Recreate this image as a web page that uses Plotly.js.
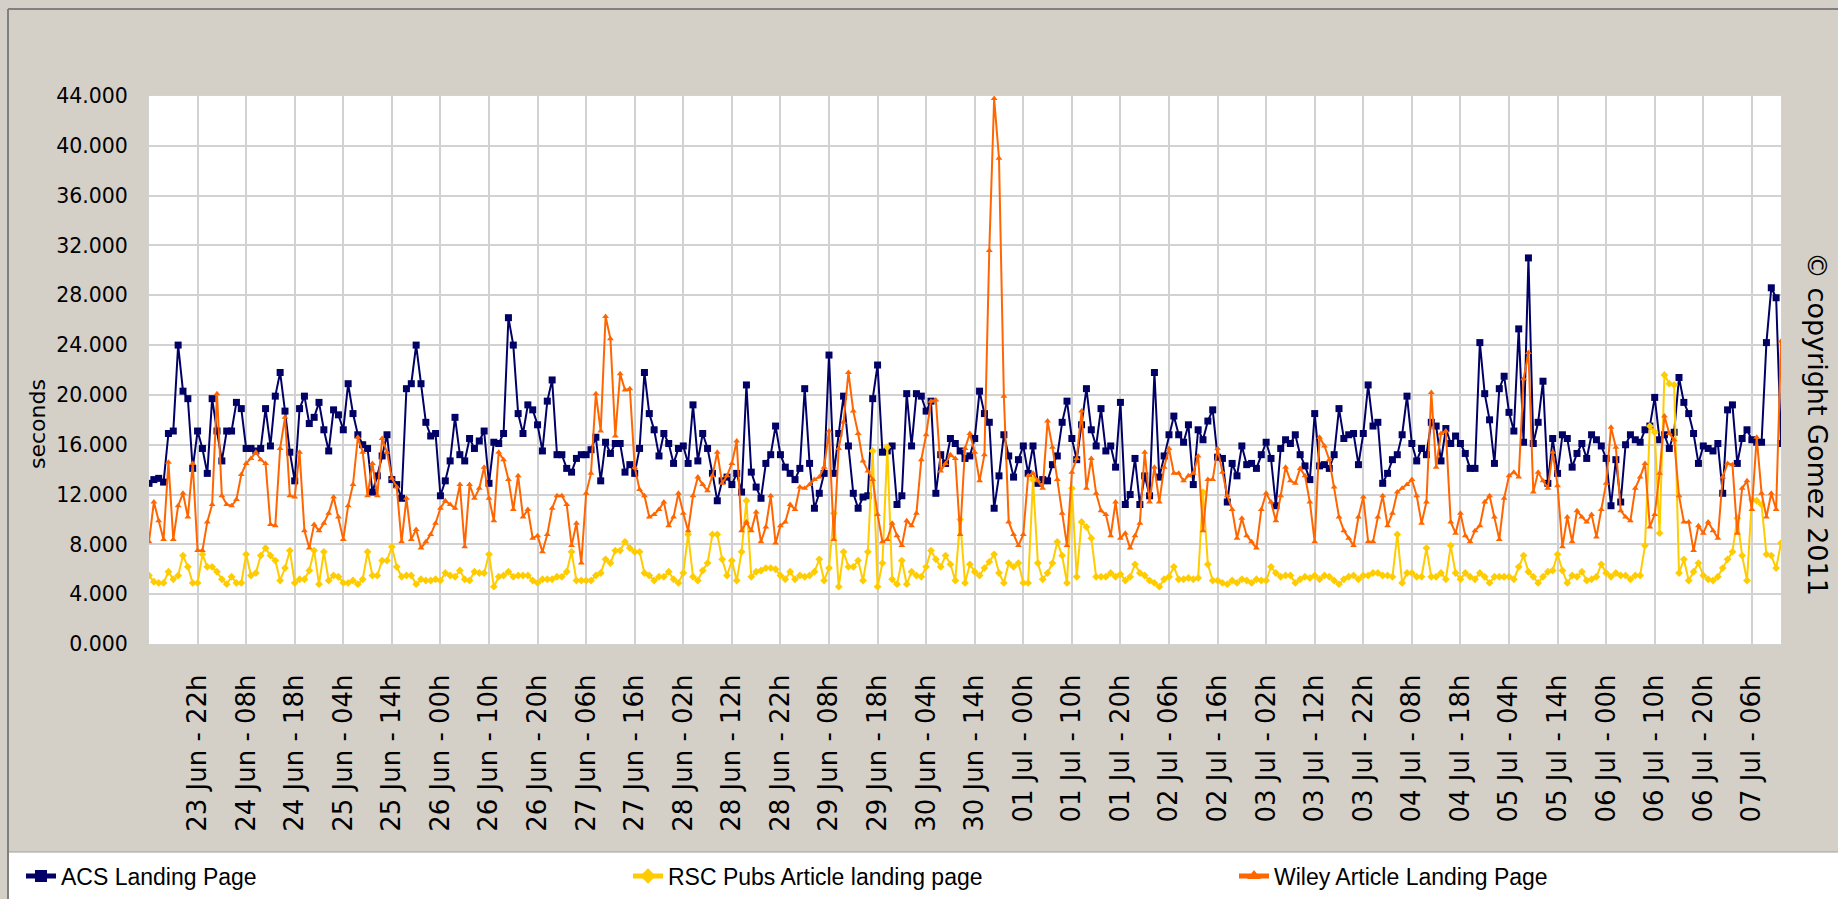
<!DOCTYPE html>
<html>
<head>
<meta charset="utf-8">
<script src="https://cdn.plot.ly/plotly-3.0.1.min.js"></script>
<style>
html,body{margin:0;padding:0;background:#D4D0C8;}
#chart{width:1838px;height:899px;}
</style>
</head>
<body>
<div id="chart"></div>
<script>
// ---- data (hourly samples, seconds) ----
const startTime = '2011-06-23T12:00:00Z';
const seriesNames = ['ACS Landing Page', 'RSC Pubs Article landing page', 'Wiley Article Landing Page'];

const acsLanding = [
12.9,13.2,13.3,13.0,16.9,17.1,24.0,20.3,19.7,14.1,17.1,15.7,13.7,19.7,17.1,14.7,17.1,17.1,19.4,18.9,15.7,15.7,15.5,15.7,18.9,15.9,19.9,21.8,18.7,15.4,13.1,18.9,19.9,17.7,
18.2,19.4,17.2,15.5,18.8,18.4,17.2,20.9,18.5,16.8,16.0,15.7,12.2,13.5,15.1,16.8,13.2,12.8,11.7,20.5,20.9,24.0,20.9,17.8,16.7,16.9,11.9,13.1,14.7,18.2,15.2,14.7,16.5,
15.7,16.3,17.1,12.9,16.2,16.1,16.9,26.2,24.0,18.5,16.9,19.2,18.8,17.6,15.5,19.5,21.2,15.2,15.2,14.1,13.8,14.9,15.2,15.2,15.6,16.6,13.1,16.2,15.3,16.1,16.1,13.8,14.4,13.7,
15.7,21.8,18.5,17.2,15.1,16.9,16.1,14.5,15.7,15.9,14.5,19.2,14.7,16.9,15.7,13.7,11.5,13.1,13.4,12.8,13.7,12.2,20.8,13.8,12.6,11.7,14.5,15.2,17.5,15.2,14.2,13.7,13.2,14.1,
20.5,14.5,10.9,12.1,13.7,23.2,13.7,16.9,19.9,15.9,12.1,10.9,11.8,11.9,19.7,22.4,15.4,15.5,15.9,11.2,11.9,20.1,15.9,20.1,19.9,18.7,19.5,12.1,15.2,14.5,16.5,16.1,15.5,
14.9,15.1,16.5,20.3,18.5,17.8,10.9,13.5,16.8,15.1,13.4,14.8,15.9,13.7,15.9,12.9,13.2,13.1,14.4,15.1,17.8,19.5,16.5,14.8,17.6,20.5,17.2,15.9,18.9,15.5,15.9,14.2,19.4,11.2,
12.0,14.9,11.2,13.5,11.9,21.8,13.4,15.1,16.8,18.3,16.8,16.2,17.6,12.8,17.2,16.4,17.9,18.8,15.0,14.9,11.4,14.5,13.5,15.9,14.4,14.5,14.1,15.2,16.2,14.9,11.1,15.7,16.4,16.1,
16.8,15.2,14.3,13.2,18.5,14.3,14.4,14.1,15.2,18.9,16.5,16.8,16.9,14.4,16.9,20.8,17.5,17.8,12.9,13.7,14.8,15.2,16.8,19.9,16.1,14.7,15.7,15.2,17.8,17.5,14.7,17.3,16.1,
16.7,16.1,15.3,14.1,14.1,24.2,20.1,18.0,14.5,20.5,21.5,18.6,17.1,25.3,16.2,31.0,16.1,17.8,21.1,12.9,16.5,13.7,16.8,16.5,14.2,15.3,16.1,14.9,16.8,16.4,15.9,14.9,11.1,14.8,
11.4,16.0,16.8,16.4,16.2,17.2,17.5,19.8,16.4,16.8,15.7,17.0,21.4,19.4,18.5,16.9,14.5,15.9,15.7,15.5,16.1,12.1,18.8,19.2,14.5,16.5,17.2,16.4,16.2,16.2,24.2,28.6,27.8,16.1
];

const rscArticle = [
5.5,5.0,4.9,4.9,5.8,5.2,5.5,7.1,6.2,4.9,4.9,7.2,6.2,6.2,5.8,5.2,4.8,5.4,4.9,4.9,7.2,5.5,5.7,7.1,7.7,7.1,6.7,5.1,6.1,7.5,4.9,5.2,5.2,5.9,
7.5,4.8,7.4,5.1,5.5,5.4,4.9,4.9,5.1,4.8,5.2,7.4,5.5,5.5,6.7,6.7,7.8,6.2,5.4,5.5,5.5,4.8,5.2,5.1,5.1,5.2,5.1,5.7,5.5,5.4,5.9,5.2,5.1,5.8,
5.7,5.7,7.2,4.6,5.4,5.5,5.8,5.4,5.5,5.5,5.5,5.1,4.9,5.2,5.2,5.2,5.4,5.4,5.8,7.4,5.1,5.1,5.1,5.1,5.5,5.7,6.8,6.5,7.5,7.5,8.2,7.7,7.4,
7.4,5.7,5.5,5.1,5.4,5.4,5.8,5.2,4.9,5.7,8.8,5.4,5.1,5.9,6.5,8.8,8.8,6.8,5.5,6.7,5.1,7.4,11.5,5.4,5.8,5.9,6.1,6.1,6.0,5.5,5.2,5.8,5.2,5.5,
5.4,5.5,5.8,6.8,5.1,6.1,10.5,4.6,7.4,6.2,6.2,6.7,5.1,7.4,15.5,4.6,6.5,15.8,5.2,4.8,6.7,4.8,5.8,5.5,5.4,6.2,7.5,6.8,6.2,7.1,6.4,5.1,10.0,
4.9,6.4,5.8,5.5,6.1,6.6,7.2,5.7,4.9,6.5,6.2,6.5,4.9,4.9,13.2,6.5,5.2,5.7,6.5,8.2,7.1,4.9,12.5,5.4,9.8,9.4,8.5,5.4,5.4,5.4,5.7,5.4,5.6,5.1,
5.4,6.4,5.7,5.5,5.1,4.9,4.6,5.2,5.4,6.2,5.2,5.2,5.3,5.2,5.3,12.2,6.4,5.1,5.1,4.9,4.8,5.1,4.9,5.2,5.1,4.9,5.2,5.1,5.1,6.2,5.7,5.4,5.5,5.5,
4.9,5.2,5.4,5.3,5.5,5.2,5.5,5.4,5.1,4.8,5.2,5.4,5.5,5.2,5.5,5.5,5.7,5.7,5.5,5.5,5.4,8.8,4.9,5.7,5.7,5.4,5.4,7.7,5.4,5.4,5.7,5.2,7.9,
5.7,5.2,5.7,5.4,5.2,5.7,5.4,4.9,5.4,5.4,5.4,5.4,5.2,6.2,7.1,5.8,5.4,4.9,5.4,5.8,5.9,7.2,5.9,4.9,5.5,5.4,5.8,5.1,5.2,5.4,6.4,5.7,5.4,5.7,
5.5,5.5,5.2,5.5,5.5,7.9,17.5,17.0,8.9,21.6,20.9,20.8,5.7,6.8,5.1,5.8,6.5,5.5,5.2,5.1,5.4,6.1,6.8,7.4,10.1,7.1,5.1,11.6,11.5,11.2,7.2,7.1,6.1,8.1
];

const wileyArticle = [
8.2,11.4,9.9,8.4,14.6,8.4,11.1,12.1,10.2,14.5,7.5,7.5,9.8,11.2,20.1,11.9,11.2,11.1,11.6,13.6,14.5,14.9,15.4,14.8,14.5,9.6,9.5,15.7,18.2,11.9,11.8,15.4,9.1,7.7,9.6,
9.1,9.7,10.5,11.8,10.2,8.4,11.1,12.8,16.6,15.4,11.9,14.5,11.9,16.5,15.4,13.3,12.6,8.2,11.7,8.4,9.2,7.7,8.2,8.8,9.7,10.9,11.5,11.2,10.9,12.8,7.8,12.8,11.7,
12.5,14.2,11.7,9.9,15.4,14.8,13.2,10.8,13.5,10.2,10.8,8.5,8.7,7.4,8.8,10.9,11.9,11.9,11.2,7.9,9.7,6.5,12.1,13.7,20.1,17.1,26.3,24.5,16.7,21.7,20.4,20.5,14.2,
12.4,11.9,10.2,10.4,10.8,11.4,9.5,10.2,12.1,10.5,9.1,11.9,13.4,12.8,12.3,13.5,15.4,12.9,13.5,14.5,16.3,9.1,9.8,9.1,10.6,8.2,9.4,11.9,8.1,9.5,9.8,11.2,10.8,12.6,
12.5,12.8,13.2,13.4,14.2,17.1,8.4,15.7,17.8,21.8,18.7,16.9,14.7,13.9,13.2,10.4,8.2,8.4,9.7,8.7,7.9,9.9,9.5,10.5,14.8,16.8,19.5,19.6,13.9,14.5,15.2,14.9,8.8,
15.7,16.9,15.4,13.1,15.2,31.6,43.8,39.0,19.9,9.8,8.8,7.9,8.8,13.5,13.7,13.1,12.5,17.9,15.8,13.2,10.5,7.9,13.8,14.9,18.7,12.5,14.9,12.1,10.7,10.4,8.7,11.4,8.5,8.9,
7.7,8.7,9.7,15.4,11.4,14.2,11.4,14.2,15.7,13.7,13.7,13.1,13.5,13.7,15.1,9.1,13.2,13.2,15.7,13.8,11.9,10.8,8.5,10.1,8.7,8.2,7.7,10.8,12.1,11.4,9.9,11.9,14.2,13.1,
12.9,14.1,13.5,11.4,8.2,16.6,15.9,14.8,12.6,10.2,9.1,8.5,7.9,10.2,11.8,8.2,8.2,10.2,11.9,9.5,10.5,12.2,12.5,12.8,13.2,11.9,9.7,11.4,20.2,14.2,16.9,17.1,9.8,
8.9,10.5,8.7,8.2,9.1,9.5,11.4,11.9,10.2,8.4,11.7,13.5,13.8,13.4,21.3,23.4,12.2,13.8,13.1,12.5,15.4,12.7,7.8,10.2,8.2,10.7,10.2,9.8,10.4,8.6,10.8,12.9,17.4,
15.8,10.7,10.2,9.9,12.5,13.4,14.5,9.4,10.4,13.7,18.3,16.9,16.4,11.9,9.8,9.8,7.5,9.5,8.9,9.8,9.1,8.5,13.4,14.5,14.4,8.9,12.5,13.1,10.8,16.6,12.1,10.2,12.1,10.8,24.3
];

const yTickValues = [0, 4, 8, 12, 16, 20, 24, 28, 32, 36, 40, 44];
const firstTickTime = '2011-06-23T22:00:00Z';
const tickStepHours = 10;

// ---- build hourly time stamps and tick positions ----
const fmt = ms => new Date(ms).toISOString().slice(0, 16).replace('T', ' ');
const t0 = Date.parse(startTime);
const n = Math.min(acsLanding.length, rscArticle.length, wileyArticle.length);
const times = [];
for (let i = 0; i < n; i++) times.push(fmt(t0 + i * 3600000));
const tEnd = t0 + (n - 1) * 3600000;
const xTickValues = [];
for (let t = Date.parse(firstTickTime); t <= tEnd; t += tickStepHours * 3600000) xTickValues.push(fmt(t));

// ---- geometry helpers (pixel -> paper) ----
const W = 1838, H = 899, ML = 149, MR = 57, MT = 96, MB = 255;
const PW = W - ML - MR, PH = H - MT - MB;
const fx = px => (px - ML) / PW;
const fy = py => (H - MB - py) / PH;

const baseFont = 'DejaVu Sans, Verdana, sans-serif';
const legendFont = {family: 'Liberation Sans, Arial, sans-serif', size: 23, color: '#000000'};
const legendBase = px => ({
  orientation: 'h', xref: 'container', yref: 'container',
  x: px / W, xanchor: 'left', y: 1 - 876 / H, yanchor: 'middle',
  itemsizing: 'constant',
  bgcolor: 'rgba(0,0,0,0)', borderwidth: 0, font: legendFont
});

const traces = [
  {
    x: times, y: acsLanding.slice(0, n), name: seriesNames[0], type: 'scatter', mode: 'lines+markers',
    legend: 'legend',
    line: {color: '#000066', width: 2},
    marker: {symbol: 'square', size: 7, color: '#000066'}
  },
  {
    x: times, y: rscArticle.slice(0, n), name: seriesNames[1], type: 'scatter', mode: 'lines+markers',
    legend: 'legend2',
    line: {color: '#FFCC00', width: 2},
    marker: {symbol: 'diamond', size: 6, color: '#FFCC00'}
  },
  {
    x: times, y: wileyArticle.slice(0, n), name: seriesNames[2], type: 'scatter', mode: 'lines+markers',
    legend: 'legend3',
    line: {color: '#FF6600', width: 2},
    marker: {symbol: 'triangle-up', size: 6, color: '#FF6600'}
  }
];

const layout = {
  width: W, height: H,
  paper_bgcolor: '#D4D0C8',
  plot_bgcolor: '#FFFFFF',
  margin: {l: ML, r: MR, t: MT, b: MB, pad: 0, autoexpand: false},
  font: {family: baseFont, size: 19, color: '#000000'},
  showlegend: true,
  hovermode: false,
  xaxis: {
    type: 'date',
    range: [times[0], times[n - 1]],
    tickmode: 'array',
    tickvals: xTickValues,
    tickformat: '%d %b - %Hh',
    tickangle: -90,
    tickfont: {family: baseFont, size: 26, color: '#000000'},
    ticks: '',
    ticklabelstandoff: 19,
    showgrid: true, gridcolor: '#D2D2D2', gridwidth: 2,
    zeroline: false,
    showline: true, linecolor: '#D2D2D2', linewidth: 1, mirror: true,
    automargin: false
  },
  yaxis: {
    range: [0, 44],
    tickvals: yTickValues,
    tickformat: '.3f',
    tickfont: {family: baseFont, size: 20.5, color: '#000000'},
    ticks: '',
    ticklabelstandoff: 16,
    showgrid: true, gridcolor: '#D2D2D2', gridwidth: 2,
    zeroline: false,
    showline: true, linecolor: '#D2D2D2', linewidth: 1, mirror: true,
    automargin: false
  },
  legend: legendBase(21),
  legend2: legendBase(628),
  legend3: legendBase(1234),
  shapes: [
    {type: 'rect', xref: 'paper', yref: 'paper', x0: fx(8), x1: fx(1840), y0: fy(900), y1: fy(852),
     fillcolor: '#FFFFFF', line: {color: '#A0A0A0', width: 1}, layer: 'below'},
    {type: 'line', xref: 'paper', yref: 'paper', x0: fx(8), x1: fx(1840), y0: fy(9), y1: fy(9),
     line: {color: '#808080', width: 2}},
    {type: 'line', xref: 'paper', yref: 'paper', x0: fx(8), x1: fx(8), y0: fy(9), y1: fy(899),
     line: {color: '#808080', width: 2}}
  ],
  annotations: [
    {text: 'seconds', xref: 'paper', yref: 'paper', x: fx(38), y: fy(424), textangle: -90,
     showarrow: false, xanchor: 'center', yanchor: 'middle',
     font: {family: baseFont, size: 22, color: '#000000'}},
    {text: '© copyright Gomez 2011', xref: 'paper', yref: 'paper', x: fx(1817), y: fy(424), textangle: 90,
     showarrow: false, xanchor: 'center', yanchor: 'middle',
     font: {family: baseFont, size: 27, color: '#000000'}}
  ]
};

Plotly.newPlot('chart', traces, layout, {staticPlot: true, displayModeBar: false});
</script>
</body>
</html>
